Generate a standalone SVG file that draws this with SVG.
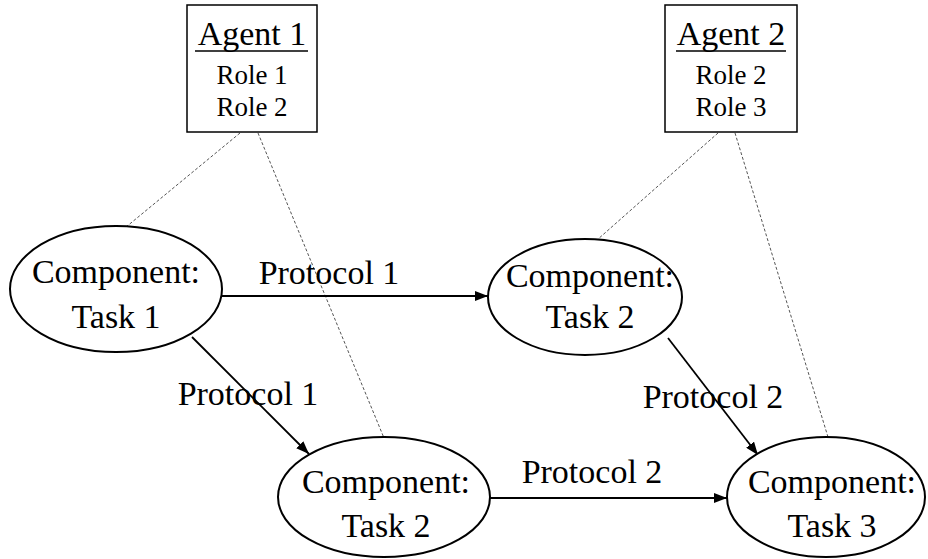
<svg xmlns="http://www.w3.org/2000/svg" width="928" height="559" viewBox="0 0 928 559">
<style>
text{font-family:"Liberation Serif","Times New Roman",serif;fill:#000;text-anchor:middle}
.big{font-size:34px}
.role{font-size:27px}
.box{fill:#fff;stroke:#000;stroke-width:1.5}
.ell{fill:#fff;stroke:#000;stroke-width:2}
.arr{stroke:#000;stroke-width:1.8;fill:none;marker-end:url(#ah)}
.dash{stroke:#555;stroke-width:1;stroke-dasharray:3 2;fill:none}
.ul{stroke:#000;stroke-width:1.5}
</style>
<defs>
<marker id="ah" markerUnits="userSpaceOnUse" markerWidth="14" markerHeight="10" refX="13" refY="5" orient="auto">
<path d="M0,0 L13,5 L0,10 Z" fill="#000"/>
</marker>
</defs>
<g id="connectors">
<line class="dash" x1="240" y1="133" x2="120" y2="232"/>
<line class="dash" x1="258" y1="133" x2="384" y2="438"/>
<line class="dash" x1="718" y1="133" x2="597" y2="240"/>
<line class="dash" x1="735" y1="133" x2="828" y2="437"/>
<line class="arr" x1="222" y1="296" x2="488" y2="296"/>
<line class="arr" x1="192" y1="337" x2="309" y2="454"/>
<line class="arr" x1="668" y1="338" x2="758" y2="455"/>
<line class="arr" x1="488" y1="498" x2="727" y2="498"/>
<text class="big" x="329" y="284">Protocol 1</text>
<text class="big" x="248" y="405">Protocol 1</text>
<text class="big" x="713" y="408">Protocol 2</text>
<text class="big" x="592" y="483">Protocol 2</text>
</g>
<g id="agent1">
<rect class="box" x="187" y="5" width="130" height="127"/>
<text class="big" x="252" y="45">Agent 1</text>
<line class="ul" x1="195" y1="51" x2="308" y2="51"/>
<text class="role" x="252" y="84">Role 1</text>
<text class="role" x="252" y="116">Role 2</text>
</g>
<g id="agent2">
<rect class="box" x="665" y="5" width="132" height="127"/>
<text class="big" x="731" y="45">Agent 2</text>
<line class="ul" x1="676" y1="51" x2="786" y2="51"/>
<text class="role" x="731" y="84">Role 2</text>
<text class="role" x="731" y="116">Role 3</text>
</g>
<g id="task1">
<ellipse class="ell" cx="116" cy="289" rx="106" ry="63"/>
<text class="big" x="116" y="283">Component:</text>
<text class="big" x="116" y="328">Task 1</text>
</g>
<g id="task2a">
<ellipse class="ell" cx="585" cy="297" rx="97" ry="58"/>
<text class="big" x="590" y="287">Component:</text>
<text class="big" x="590" y="328">Task 2</text>
</g>
<g id="task2b">
<ellipse class="ell" cx="384" cy="497" rx="106" ry="60"/>
<text class="big" x="386" y="493">Component:</text>
<text class="big" x="386" y="537">Task 2</text>
</g>
<g id="task3">
<ellipse class="ell" cx="826" cy="497" rx="99" ry="60"/>
<text class="big" x="832" y="493">Component:</text>
<text class="big" x="832" y="537">Task 3</text>
</g>
</svg>
